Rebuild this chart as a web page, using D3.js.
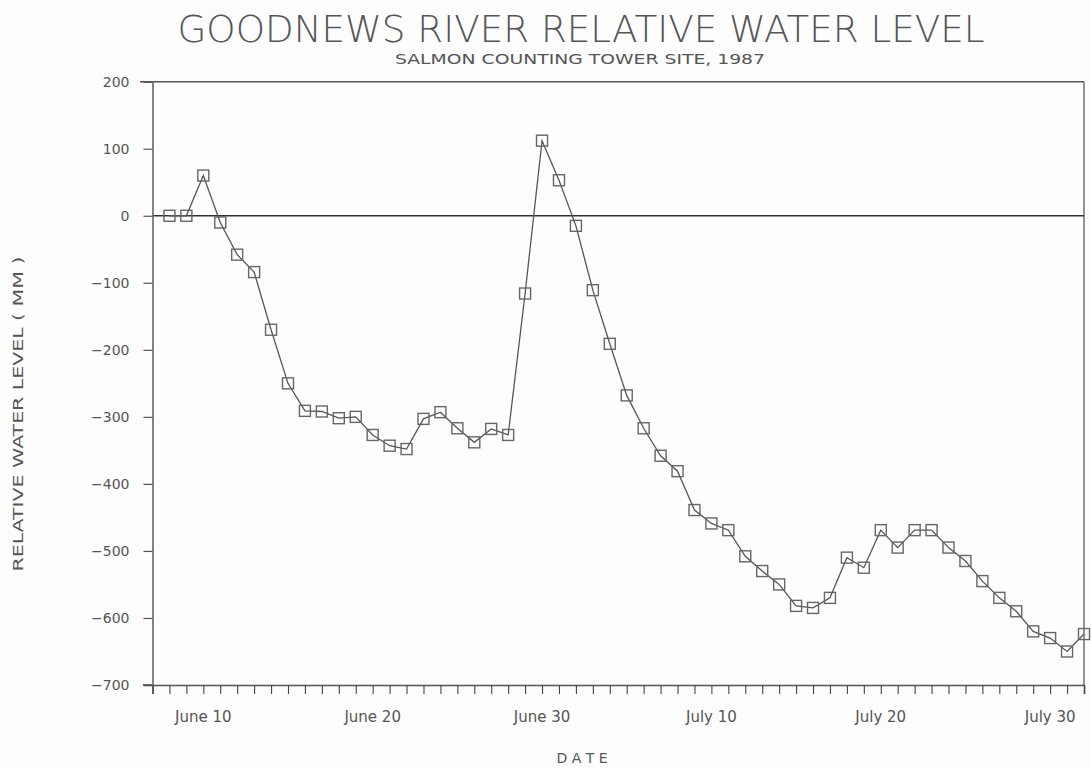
<!DOCTYPE html>
<html>
<head>
<meta charset="utf-8">
<script src="https://cdn.jsdelivr.net/npm/d3@7"></script>
<style>
  html, body { margin: 0; padding: 0; background: #fdfdfd; }
  svg { display: block; }
  text { font-family: "DejaVu Sans", sans-serif; fill: #555; }
</style>
</head>
<body>
<svg id="chart" width="1091" height="768"></svg>
<script>
// ---- data ----
const dates = [
  "1987-06-08","1987-06-09","1987-06-10","1987-06-11","1987-06-12","1987-06-13","1987-06-14",
  "1987-06-15","1987-06-16","1987-06-17","1987-06-18","1987-06-19","1987-06-20","1987-06-21",
  "1987-06-22","1987-06-23","1987-06-24","1987-06-25","1987-06-26","1987-06-27","1987-06-28",
  "1987-06-29","1987-06-30","1987-07-01","1987-07-02","1987-07-03","1987-07-04","1987-07-05",
  "1987-07-06","1987-07-07","1987-07-08","1987-07-09","1987-07-10","1987-07-11","1987-07-12",
  "1987-07-13","1987-07-14","1987-07-15","1987-07-16","1987-07-17","1987-07-18","1987-07-19",
  "1987-07-20","1987-07-21","1987-07-22","1987-07-23","1987-07-24","1987-07-25","1987-07-26",
  "1987-07-27","1987-07-28","1987-07-29","1987-07-30","1987-07-31","1987-08-01"
];
const levels = [
  0, 0, 60, -10, -58, -84, -170,
  -250, -291, -292, -302, -300, -327, -343,
  -348, -303, -293, -317, -338, -318, -327,
  -116, 112, 53, -15, -111, -191, -268,
  -317, -358, -381, -439, -459, -469, -508,
  -530, -550, -582, -585, -570, -510, -525,
  -469, -495, -469, -469, -495, -515, -545,
  -570, -590, -620, -630, -650, -624
];
const yTicks = [200, 100, 0, -100, -200, -300, -400, -500, -600, -700];
const xLabelDates = ["1987-06-10","1987-06-20","1987-06-30","1987-07-10","1987-07-20","1987-07-30"];
const xLabelTexts = ["June 10","June 20","June 30","July 10","July 20","July 30"];
const xDomain = ["1987-06-07", "1987-08-01"];
const yDomain = [-700, 200];
const title = "GOODNEWS RIVER RELATIVE WATER LEVEL";
const subtitle = "SALMON COUNTING TOWER SITE, 1987";
const yLabel = "RELATIVE WATER LEVEL ( MM )";
const xLabel = "D A T E";

// ---- drawing ----
(function () {
const parse = d3.utcParse("%Y-%m-%d");
const svg = d3.select("#chart");
const pLeft = 152.5, pRight = 1084, pTop = 81.7, pBottom = 685;

const x = d3.scaleUtc().domain(xDomain.map(parse)).range([pLeft, pRight]);
const y = d3.scaleLinear().domain(yDomain).range([pBottom, pTop]);

const data = dates.map((d, i) => ({ date: parse(d), v: levels[i] }));

// frame: top border and right border
svg.append("line").attr("x1", 140).attr("x2", pRight).attr("y1", pTop).attr("y2", pTop)
  .attr("stroke", "#555").attr("stroke-width", 1.6);
svg.append("line").attr("x1", pRight).attr("x2", pRight).attr("y1", pTop).attr("y2", pBottom)
  .attr("stroke", "#666").attr("stroke-width", 1.4);

// zero line
svg.append("line").attr("x1", pLeft).attr("x2", pRight).attr("y1", y(0)).attr("y2", y(0))
  .attr("stroke", "#333").attr("stroke-width", 1.6);

// y axis
const yAxis = d3.axisLeft(y).tickValues(yTicks).tickSize(9).tickPadding(14)
  .tickFormat(d => d < 0 ? "\u2212" + Math.abs(d) : d);
const gy = svg.append("g").attr("transform", `translate(${pLeft},0)`).call(yAxis);
gy.select(".domain").attr("stroke", "#666").attr("stroke-width", 1.6);
gy.selectAll(".tick line").attr("stroke", "#555").attr("stroke-width", 1.2);
gy.selectAll(".tick text").attr("font-size", 14).attr("fill", "#555")
  .style("font-family", "'DejaVu Sans', sans-serif");

// x axis: daily ticks
const dayTicks = d3.utcDay.range(parse(xDomain[0]), d3.utcDay.offset(parse(xDomain[1]), 1));
const xAxis = d3.axisBottom(x).tickValues(dayTicks).tickSize(9).tickFormat("");
const gx = svg.append("g").attr("transform", `translate(0,${pBottom})`).call(xAxis);
gx.select(".domain").attr("stroke", "#555").attr("stroke-width", 1.6);
gx.selectAll(".tick line").attr("stroke", "#444").attr("stroke-width", 1.1);
svg.append("line").attr("x1", 143).attr("x2", pLeft).attr("y1", pBottom).attr("y2", pBottom)
  .attr("stroke", "#555").attr("stroke-width", 1.6);

// x labels
svg.append("g").selectAll("text").data(xLabelDates).join("text")
  .attr("x", d => x(parse(d)))
  .attr("y", pBottom + 37)
  .attr("text-anchor", "middle")
  .attr("font-size", 15)
  .attr("fill", "#555")
  .text((d, i) => xLabelTexts[i]);

// line
const line = d3.line().x(d => x(d.date)).y(d => y(d.v));
svg.append("path").datum(data).attr("d", line)
  .attr("fill", "none").attr("stroke", "#555").attr("stroke-width", 1.3);

// markers
const s = 11;
svg.append("g").selectAll("rect").data(data).join("rect")
  .attr("x", d => x(d.date) - s / 2)
  .attr("y", d => y(d.v) - s / 2)
  .attr("width", s).attr("height", s)
  .attr("fill", "none")
  .attr("stroke", "#666").attr("stroke-width", 1.4);

// titles
svg.append("text").attr("x", 581).attr("y", 42).attr("text-anchor", "middle")
  .attr("font-size", 37).attr("font-weight", 200).attr("fill", "#666")
  .attr("textLength", 807).attr("lengthAdjust", "spacingAndGlyphs")
  .text(title);
svg.append("text").attr("x", 580).attr("y", 64).attr("text-anchor", "middle")
  .attr("font-size", 14.5).attr("fill", "#444")
  .attr("textLength", 370).attr("lengthAdjust", "spacingAndGlyphs")
  .text(subtitle);

// y label
svg.append("text").attr("transform", "translate(23,414) rotate(-90)")
  .attr("text-anchor", "middle").attr("font-size", 13.5).attr("fill", "#666")
  .attr("textLength", 315).attr("lengthAdjust", "spacingAndGlyphs")
  .text(yLabel);

// x label
svg.append("text").attr("x", 582).attr("y", 763).attr("text-anchor", "middle")
  .attr("font-size", 14).attr("fill", "#555")
  .text(xLabel);
})();
</script>
</body>
</html>
